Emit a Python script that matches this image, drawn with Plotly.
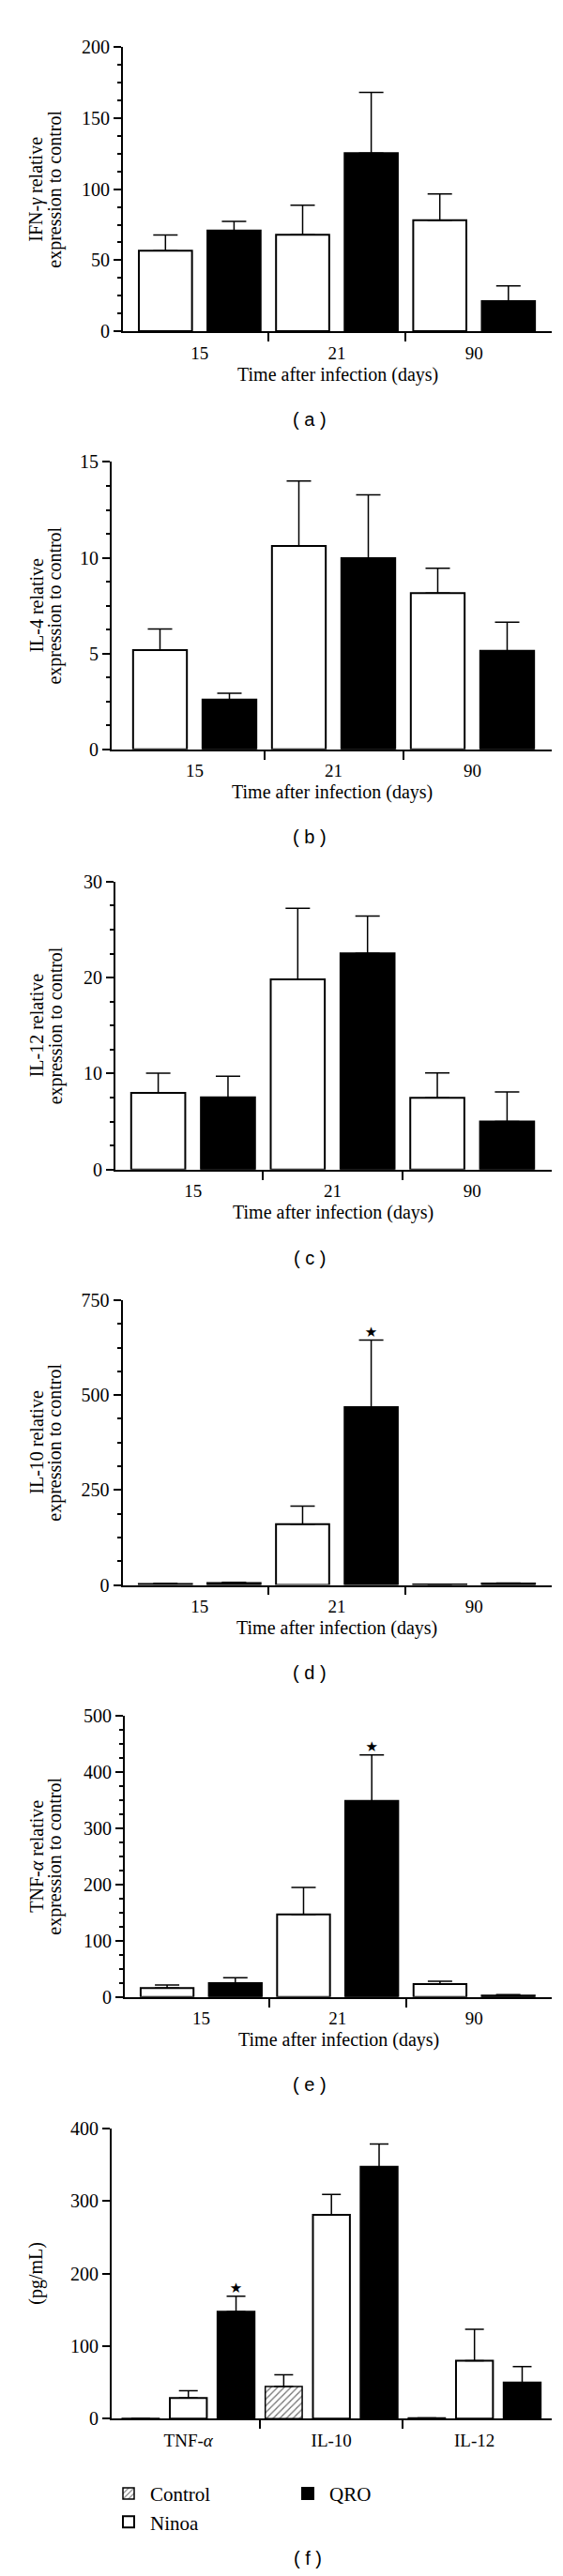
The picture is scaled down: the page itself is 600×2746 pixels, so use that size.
import plotly.graph_objects as go

# ---------------- data ----------------
days = ["15", "21", "90"]

ifn_ninoa = [56.7, 68.0, 78.1]
ifn_ninoa_err = [11.0, 20.8, 18.5]
ifn_qro = [70.9, 125.4, 21.2]
ifn_qro_err = [6.5, 42.8, 10.7]

il4_ninoa = [5.18, 10.61, 8.15]
il4_ninoa_err = [1.1, 3.4, 1.3]
il4_qro = [2.59, 9.98, 5.14]
il4_qro_err = [0.33, 3.3, 1.5]

il12_ninoa = [7.99, 19.82, 7.47]
il12_ninoa_err = [2.06, 7.4, 2.6]
il12_qro = [7.53, 22.53, 5.01]
il12_qro_err = [2.2, 3.9, 3.07]

il10_ninoa = [2.5, 160.0, 1.5]
il10_ninoa_err = [1.0, 47.6, 0.5]
il10_qro = [5.0, 468.0, 3.5]
il10_qro_err = [2.0, 176.6, 1.5]

tnf_ninoa = [15.5, 146.7, 22.6]
tnf_ninoa_err = [5.5, 47.9, 5.0]
tnf_qro = [24.3, 348.4, 2.5]
tnf_qro_err = [9.9, 81.6, 1.5]

cytokines = ["TNF-<i>α</i>", "IL-10", "IL-12"]
serum_control = [0.5, 44.5, 1.2]
serum_control_err = [0.0, 16.2, 0.0]
serum_ninoa = [28.6, 281.0, 80.0]
serum_ninoa_err = [9.9, 28.4, 43.2]
serum_qro = [147.6, 347.5, 50.0]
serum_qro_err = [21.4, 31.2, 21.9]

# significance marks (category index of the QRO bar)
il10_sig = [1]
tnf_sig = [1]
serum_sig = [0]

# ---------------- styling / layout ----------------
W, H = 600, 2746
SERIF = "Liberation Serif"
SANS = "Liberation Sans"

WHITE = dict(color="white", line=dict(color="black", width=2))
BLACK = dict(color="black", line=dict(color="black", width=2))
HATCH = dict(color="white", line=dict(color="black", width=1.5),
             pattern=dict(shape="/", fgcolor="#707070", bgcolor="white",
                          size=5, solidity=0.25, fillmode="replace"))

panels = [
    dict(cats=days, series=[("Ninoa", ifn_ninoa, ifn_ninoa_err, WHITE),
                            ("QRO", ifn_qro, ifn_qro_err, BLACK)],
         sig=[], ymax=200, dtick=50, minor=True,
         x0=123, ytop=31.7, ybot=336.7, xr=[-0.56, 2.566],
         ytitle=["IFN-<i>γ</i> relative", "expression to control"],
         xtitle="Time after infection (days)", label="( a )", capw=13),
    dict(cats=days, series=[("Ninoa", il4_ninoa, il4_ninoa_err, WHITE),
                            ("QRO", il4_qro, il4_qro_err, BLACK)],
         sig=[], ymax=15, dtick=5, minor=True,
         x0=111, ytop=477.3, ybot=786, xr=[-0.598, 2.571],
         ytitle=["IL-4 relative", "expression to control"],
         xtitle="Time after infection (days)", label="( b )", capw=13),
    dict(cats=days, series=[("Ninoa", il12_ninoa, il12_ninoa_err, WHITE),
                            ("QRO", il12_qro, il12_qro_err, BLACK)],
         sig=[], ymax=30, dtick=10, minor=True,
         x0=114.8, ytop=928.3, ybot=1237.7, xr=[-0.558, 2.570],
         ytitle=["IL-12 relative", "expression to control"],
         xtitle="Time after infection (days)", label="( c )", capw=13),
    dict(cats=days, series=[("Ninoa", il10_ninoa, il10_ninoa_err, WHITE),
                            ("QRO", il10_qro, il10_qro_err, BLACK)],
         sig=il10_sig, ymax=750, dtick=250, minor=True,
         x0=122.5, ytop=1378, ybot=1684, xr=[-0.563, 2.566],
         ytitle=["IL-10 relative", "expression to control"],
         xtitle="Time after infection (days)", label="( d )", capw=13),
    dict(cats=days, series=[("Ninoa", tnf_ninoa, tnf_ninoa_err, WHITE),
                            ("QRO", tnf_qro, tnf_qro_err, BLACK)],
         sig=tnf_sig, ymax=500, dtick=100, minor=True,
         x0=125, ytop=1824.3, ybot=2126.7, xr=[-0.56, 2.569],
         ytitle=["TNF-<i>α</i> relative", "expression to control"],
         xtitle="Time after infection (days)", label="( e )", capw=13),
    dict(cats=cytokines, series=[("Control", serum_control, serum_control_err, HATCH),
                                 ("Ninoa", serum_ninoa, serum_ninoa_err, WHITE),
                                 ("QRO", serum_qro, serum_qro_err, BLACK)],
         sig=serum_sig, ymax=400, dtick=100, minor=False,
         x0=111, ytop=2268.3, ybot=2580, xr=[-0.536, 2.54],
         ytitle=["(pg/mL)"], xtitle=None, label="( f )", capw=10),
]

X1 = 580
fig = go.Figure()
annotations = []
layout = {}

for i, p in enumerate(panels, start=1):
    xa = "x" if i == 1 else f"x{i}"
    ya = "y" if i == 1 else f"y{i}"
    xkey = "xaxis" if i == 1 else f"xaxis{i}"
    ykey = "yaxis" if i == 1 else f"yaxis{i}"
    idx = list(range(len(p["cats"])))
    n = len(p["series"])
    last = i == len(panels)
    for k, (name, vals, errs, style) in enumerate(p["series"]):
        fig.add_trace(go.Bar(
            x=idx, y=vals, name=name, xaxis=xa, yaxis=ya, marker=style,
            error_y=dict(type="data", array=errs, arrayminus=[0] * len(errs),
                         symmetric=False, color="black", thickness=1.5,
                         width=p["capw"]),
            showlegend=last,
            legend=("legend2" if name == "QRO" else "legend"),
            legendrank=k + 1, hoverinfo="skip"))
        if name == "QRO" and p["sig"]:
            off = (k - (n - 1) / 2) / n
            fig.add_trace(go.Scatter(
                x=[j + off for j in p["sig"]],
                y=[vals[j] + errs[j] for j in p["sig"]],
                mode="text", text=["★"] * len(p["sig"]),
                textposition="top center",
                textfont=dict(family="DejaVu Sans", size=15, color="black"),
                xaxis=xa, yaxis=ya, showlegend=False, cliponaxis=False,
                hoverinfo="skip"))

    ydom = [1 - p["ybot"] / H, 1 - p["ytop"] / H]
    layout[xkey] = dict(
        domain=[p["x0"] / W, X1 / W], range=p["xr"], anchor=ya,
        showline=True, linecolor="black", linewidth=1.8,
        tickmode="array", tickvals=idx, ticktext=p["cats"],
        ticks="outside", ticklen=5, tickcolor="rgba(0,0,0,0)",
        minor=dict(tickmode="array", tickvals=[0.5, 1.5], ticks="outside",
                   ticklen=9, tickwidth=1.5, tickcolor="black"),
        tickfont=dict(family=SERIF, size=19, color="black"),
        showgrid=False, zeroline=False, fixedrange=True)
    ya_def = dict(
        domain=ydom, range=[0, p["ymax"]], anchor=xa,
        showline=True, linecolor="black", linewidth=1.8,
        tickmode="linear", tick0=0, dtick=p["dtick"],
        ticks="outside", ticklen=8, tickwidth=1.5, tickcolor="black",
        tickfont=dict(family=SERIF, size=20, color="black"),
        showgrid=False, zeroline=False, fixedrange=True)
    if p["minor"]:
        ya_def["minor"] = dict(dtick=p["dtick"] / 4, ticks="outside",
                               ticklen=4, tickwidth=1.5, tickcolor="black")
    layout[ykey] = ya_def

    ymid = 1 - (p["ytop"] + p["ybot"]) / 2 / H
    lines = p["ytitle"]
    xs = [31, 51] if len(lines) == 2 else [31]
    for t, xp in zip(lines, xs):
        annotations.append(dict(
            text=t, x=xp / W, y=ymid, xref="paper", yref="paper",
            xanchor="center", yanchor="middle", textangle=-90, showarrow=False,
            font=dict(family=SERIF, size=20, color="black")))
    if p["xtitle"]:
        annotations.append(dict(
            text=p["xtitle"], x=(p["x0"] + X1) / 2 / W,
            y=1 - (p["ybot"] + 46.5) / H, xref="paper", yref="paper",
            xanchor="center", yanchor="middle", showarrow=False,
            font=dict(family=SERIF, size=20, color="black")))
    lab_y = p["ybot"] + 94.5 if i < 6 else 2730
    annotations.append(dict(
        text=p["label"], x=(322 if i < 6 else 320) / W, y=1 - lab_y / H,
        xref="paper", yref="paper", xanchor="center", yanchor="middle",
        showarrow=False, font=dict(family=SANS, size=20, color="black")))

fig.update_layout(
    width=W, height=H, margin=dict(l=0, r=0, t=0, b=0),
    paper_bgcolor="white", plot_bgcolor="white",
    barmode="group", bargap=0, bargroupgap=0.225,
    annotations=annotations,
    legend=dict(x=106 / W, y=1 - 2640 / H, xanchor="left", yanchor="top",
                font=dict(family=SERIF, size=21, color="black"),
                bgcolor="rgba(0,0,0,0)", tracegroupgap=0, orientation="v",
                itemwidth=36),
    legend2=dict(x=297 / W, y=1 - 2640 / H, xanchor="left", yanchor="top",
                 font=dict(family=SERIF, size=21, color="black"),
                 bgcolor="rgba(0,0,0,0)", tracegroupgap=0, orientation="v",
                 itemwidth=36),
    **layout)

fig.write_html("out.html")
